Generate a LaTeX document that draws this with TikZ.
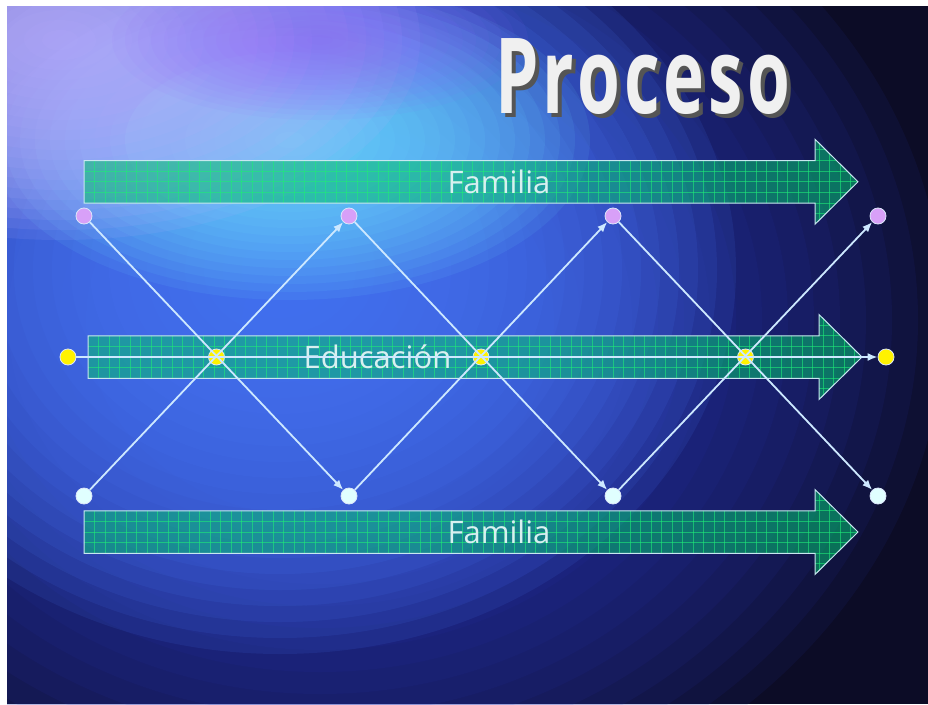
\documentclass[tikz,border=0pt]{standalone}
\usepackage{graphicx}
\usepackage{fontspec}
\setmainfont{Open Sans}
\newfontfamily\titlefont[LetterSpace=6]{Open Sans}
\usetikzlibrary{arrows.meta}
\definecolor{bgdark}{RGB}{12,12,38}
\definecolor{bgmid}{RGB}{40,52,175}
\definecolor{bgblue}{RGB}{72,118,245}
\definecolor{bgcyan}{RGB}{110,225,255}
\definecolor{bglav}{RGB}{185,175,255}
\definecolor{bgpurp}{RGB}{150,100,255}
\definecolor{arrowfill}{RGB}{5,190,110}
\definecolor{gridc}{RGB}{30,235,120}
\definecolor{rimc}{RGB}{200,232,240}
\definecolor{linkc}{RGB}{205,232,255}
\definecolor{violetdot}{RGB}{216,160,248}
\definecolor{cyandot}{RGB}{224,255,255}
\definecolor{dotrim}{RGB}{220,230,250}
\definecolor{labelc}{RGB}{216,240,240}
\definecolor{titlec}{RGB}{240,240,240}
\definecolor{shadowc}{RGB}{85,85,85}
\tikzset{
  conn/.style={draw=linkc, line width=1.8pt, -{Latex[length=10pt,width=8pt]}},
  endpt/.style={circle, minimum size=16pt, inner sep=0pt, line width=0.8pt, draw=dotrim},
  topdot/.style={endpt, fill=violetdot},
  botdot/.style={endpt, fill=cyandot},
  ydot/.style={endpt, fill=yellow},
  xdot/.style={endpt, fill=yellow},
  bartext/.style={text=labelc, font=\fontsize{31}{31}\selectfont, inner sep=0pt, anchor=base},
  titletext/.style={anchor=base west, inner sep=0pt, font=\titlefont\bfseries\fontsize{105}{105}\selectfont},
  blockarrow/.pic={
    \path[fill=arrowfill, fill opacity=0.55] (0,-21.25) -- (731,-21.25) -- (731,-42.5) -- (774,0) -- (731,42.5) -- (731,21.25) -- (0,21.25) -- cycle;
    \begin{scope}
      \clip (0,-21.25) -- (731,-21.25) -- (731,-42.5) -- (774,0) -- (731,42.5) -- (731,21.25) -- (0,21.25) -- cycle;
      \foreach \i in {1,...,73} \draw[gridc, line width=0.8pt, opacity=0.6] (\i*10.5,-43) -- (\i*10.5,43);
      \foreach \j in {-3,...,3} \draw[gridc, line width=0.8pt, opacity=0.6] (0,\j*10.625) -- (775,\j*10.625);
    \end{scope}
    \draw[rimc, line width=1pt, line join=miter] (0,-21.25) -- (731,-21.25) -- (731,-42.5) -- (774,0) -- (731,42.5) -- (731,21.25) -- (0,21.25) -- cycle;
  }
}
\begin{document}
\begin{tikzpicture}[x=1pt,y=-1pt]
\useasboundingbox (0,0) rectangle (928,704);
\fill[white] (0,0) rectangle (928,704);
% background: soft glows built from stacked translucent ellipses
\begin{scope}
  \clip (7,6) rectangle (928,704);
  \fill[bgdark] (7,6) rectangle (928,704);
  \foreach \k in {1,...,24} \fill[bgmid, opacity=0.1] (320,320) ellipse [x radius=26*\k, y radius=22*\k];
  \foreach \k in {1,...,24} \fill[bgblue, opacity=0.12] (280,270) ellipse [x radius=19*\k, y radius=16*\k];
  \foreach \k in {1,...,20} \fill[bgcyan, opacity=0.09] (290,140) ellipse [x radius=15*\k, y radius=8*\k];
  \foreach \k in {1,...,20} \fill[bglav, opacity=0.11] (60,40) ellipse [x radius=18*\k, y radius=10*\k];
  \foreach \k in {1,...,16} \fill[bgpurp, opacity=0.06] (320,40) ellipse [x radius=13*\k, y radius=5*\k];
\end{scope}
% title
\node[titletext, text=shadowc] (titleshadow) at (499,117) {\scalebox{0.66}[1]{Proceso}};
\node[titletext, text=titlec] (title) at (495,113) {\scalebox{0.66}[1]{Proceso}};
% block arrows
\pic at (84,181.75) {blockarrow};
\pic at (88,357) {blockarrow};
\pic at (84,532) {blockarrow};
\node[bartext] (fam1) at (499,193.5) {Familia};
\node[bartext] (edu) at (377.5,368) {Educación};
\node[bartext] (fam2) at (499,543.5) {Familia};
% nodes
\node[topdot] (t1) at (84,216) {};
\node[topdot] (t2) at (349,216) {};
\node[topdot] (t3) at (613,216) {};
\node[topdot] (t4) at (878,216) {};
\node[botdot] (b1) at (84,496) {};
\node[botdot] (b2) at (349,496) {};
\node[botdot] (b3) at (613,496) {};
\node[botdot] (b4) at (878,496) {};
\node[ydot] (yl) at (68,357) {};
\node[ydot] (yr) at (886,357) {};
\node[xdot] (x1) at (216.5,357) {};
\node[xdot] (x2) at (481,357) {};
\node[xdot] (x3) at (745.5,357) {};
% connectors
\draw[conn] (t1) -- (b2);
\draw[conn] (b1) -- (t2);
\draw[conn] (t2) -- (b3);
\draw[conn] (b2) -- (t3);
\draw[conn] (t3) -- (b4);
\draw[conn] (b3) -- (t4);
\draw[conn] (yl) -- (yr);
\end{tikzpicture}
\end{document}
